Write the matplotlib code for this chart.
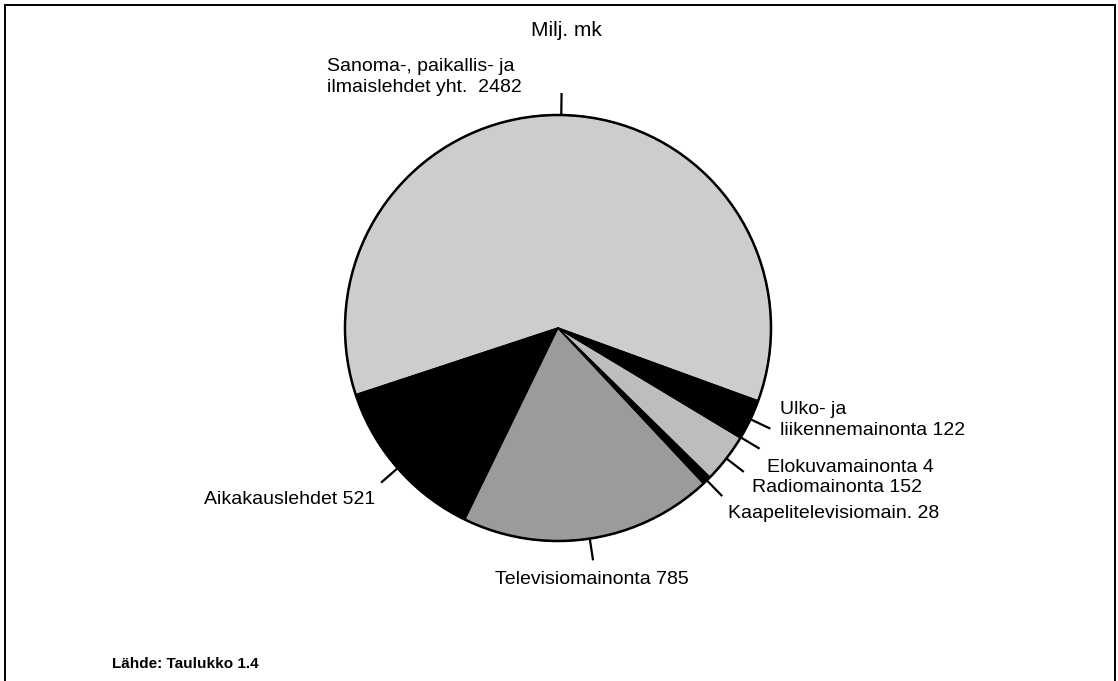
import matplotlib
matplotlib.use("Agg")
import matplotlib.pyplot as plt
import numpy as np

# ---- data ----
categories = ["Sanoma-, paikallis- ja\nilmaislehdet yht.", "Aikakauslehdet", "Televisiomainonta",
              "Kaapelitelevisiomain.", "Radiomainonta", "Elokuvamainonta",
              "Ulko- ja\nliikennemainonta"]
values = [2482, 521, 785, 28, 152, 4, 122]
colors = ["#cdcdcd", "#000000", "#9b9b9b", "#000000", "#bdbdbd", "#000000", "#000000"]
title = "Milj. mk"
source = "Lähde: Taulukko 1.4"

plt.rcParams['font.family'] = ['Liberation Sans', 'DejaVu Sans']

W, H = 1118, 681
fig = plt.figure(figsize=(W / 100, H / 100), dpi=100)
ax = fig.add_axes([0, 0, 1, 1])

def py(y):  # pixel-from-top -> data y
    return H - y

cx, cy, R = 558, py(328), 213
wedges, _ = ax.pie(values, colors=colors, startangle=-20, counterclock=True,
                   center=(cx, cy), radius=R,
                   wedgeprops=dict(edgecolor='black', linewidth=1.0))
ax.add_patch(plt.Circle((cx, cy), R, fill=False, edgecolor='black', linewidth=1.8, zorder=5))
ax.set_xlim(0, W)
ax.set_ylim(0, H)
ax.set_aspect('equal')
ax.axis('off')

# label layout (pixel positions, alignment)
label_layout = [
    (327, 77, 'left'),
    (375, 500, 'right'),
    (495, 579, 'left'),
    (728, 513, 'left'),
    (752, 488, 'left'),
    (767, 467, 'left'),
    (780, 420, 'left'),
]
for w, cat, val, (lx, ly, ha) in zip(wedges, categories, values, label_layout):
    th = np.deg2rad((w.theta1 + w.theta2) / 2)
    r0, r1 = R, R + 22
    ax.plot([cx + r0 * np.cos(th), cx + r1 * np.cos(th)],
            [cy + r0 * np.sin(th), cy + r1 * np.sin(th)],
            color='black', linewidth=1.6, solid_capstyle='butt', zorder=6)
    sep = "  " if cat.startswith("Sanoma") else " "
    ax.text(lx, py(ly), f"{cat}{sep}{val}", ha=ha, va='center', fontsize=14,
            linespacing=1.25, color='black')

ax.text(566, py(30), title, ha='center', va='center', fontsize=15, color='black')
ax.text(112, py(664), source, ha='left', va='center', fontsize=11, fontweight='bold',
        color='black')

# outer frame (left, top, right)
ax.plot([5, 5, 1115, 1115], [0, py(5), py(5), 0], color='black', linewidth=1.4,
        solid_joinstyle='miter')

fig.savefig("out.png", dpi=100)
